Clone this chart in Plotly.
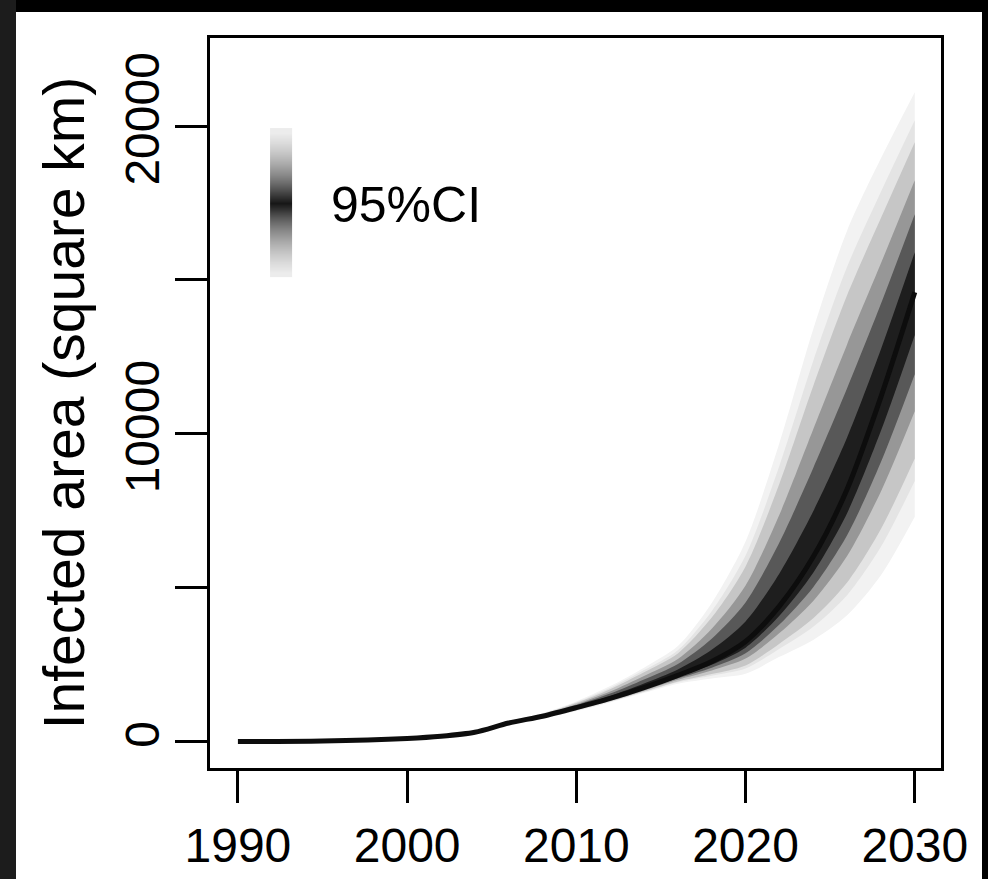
import numpy as np
import plotly.graph_objects as go

# ---------------- data ----------------
years = [1990, 1995, 2000, 2002, 2004, 2006, 2008, 2010, 2012, 2014, 2016, 2018, 2020, 2022, 2024, 2026, 2028, 2030]

q500 = [0, 15, 100, 170, 300, 600, 820, 1100, 1400, 1750, 2150, 2600, 3250, 4400, 6000, 8200, 11200, 14600]

q975 = [0, 20, 112, 190, 335, 660, 920, 1300, 1800, 2400, 3100, 4500, 6500, 9700, 13400, 16600, 18950, 21100]
q950 = [0, 19, 110, 187, 330, 652, 906, 1272, 1744, 2320, 2967, 4234, 6045, 8958, 12364, 15424, 17865, 20190]
q900 = [0, 19, 109, 185, 326, 645, 895, 1250, 1700, 2250, 2863, 4025, 5688, 8375, 11550, 14500, 17013, 19475]
q800 = [0, 18, 107, 181, 320, 634, 876, 1212, 1624, 2130, 2682, 3664, 5070, 7368, 10144, 12904, 15540, 18240]
q700 = [0, 17, 105, 178, 314, 623, 859, 1178, 1556, 2015, 2521, 3341, 4518, 6467, 8886, 11476, 14223, 17135]
q600 = [0, 16, 102, 174, 307, 612, 840, 1140, 1480, 1885, 2340, 2980, 3900, 5460, 7480, 9880, 12750, 15900]

q400 = [0, 14, 98, 166, 293, 590, 805, 1079, 1375, 1718, 2099, 2495, 3050, 4086, 5487, 7421, 10098, 13213]
q300 = [0, 13, 96, 163, 287, 580, 791, 1060, 1353, 1688, 2051, 2399, 2867, 3798, 5014, 6703, 9083, 11935]
q200 = [0, 12, 94, 159, 281, 571, 778, 1042, 1331, 1660, 2007, 2308, 2693, 3525, 4569, 6027, 8126, 10731]
q100 = [0, 11, 91, 155, 274, 559, 761, 1019, 1304, 1624, 1950, 2193, 2473, 3179, 4002, 5166, 6908, 9198]
q050 = [0, 11, 90, 153, 271, 554, 753, 1008, 1291, 1607, 1923, 2138, 2368, 3014, 3732, 4756, 6328, 8468]
q025 = [0, 10, 88, 150, 265, 545, 740, 990, 1270, 1580, 1880, 2050, 2200, 2750, 3300, 4100, 5400, 7300]

x_ticks = [1990, 2000, 2010, 2020, 2030]
y_ticks = [0, 5000, 10000, 15000, 20000]
y_ticktext = ["0", "", "10000", "", "20000"]

legend_label = "95%CI"
legend_levels = [0.04, 0.12, 0.22, 0.34, 0.48, 0.62, 0.78, 0.95, 0.78, 0.62, 0.48, 0.34, 0.22, 0.12, 0.04]

# ---------------- figure ----------------
FONT = "Liberation Sans, Arial, Helvetica, sans-serif"
fig = go.Figure()

bands = [
    (q025, q975, "#f2f2f2"),
    (q050, q950, "#e4e4e4"),
    (q100, q900, "#c6c6c6"),
    (q200, q800, "#979797"),
    (q300, q700, "#585858"),
    (q400, q600, "#1e1e1e"),
]
for lo, hi, col in bands:
    fig.add_trace(go.Scatter(x=years, y=lo, mode="lines",
                             line=dict(width=0, color=col, shape="spline", smoothing=0.8),
                             showlegend=False, hoverinfo="skip"))
    fig.add_trace(go.Scatter(x=years, y=hi, mode="lines", fill="tonexty", fillcolor=col,
                             line=dict(width=0, color=col, shape="spline", smoothing=0.8),
                             showlegend=False, hoverinfo="skip"))

fig.add_trace(go.Scatter(x=years, y=q500, mode="lines",
                         line=dict(width=5, color="#0d0d0d", shape="spline", smoothing=0.8),
                         showlegend=False, hoverinfo="skip"))

# legend gradient bar (heatmap with bin edges)
leg_x_edges = [1991.9, 1993.2]
leg_y_edges = list(np.linspace(15090, 19935, len(legend_levels) + 1))
fig.add_trace(go.Heatmap(
    x=leg_x_edges, y=leg_y_edges, z=[[v] for v in legend_levels],
    colorscale=[[0, "#f4f4f4"], [0.5, "#8a8a8a"], [1, "#0a0a0a"]],
    zmin=0, zmax=1, showscale=False, hoverinfo="skip", zsmooth="best"))

fig.add_annotation(x=1995.4, y=17430, text=legend_label, showarrow=False,
                   xanchor="left", yanchor="middle",
                   font=dict(family=FONT, size=50, color="black"))

# frame bands of the cropped image
fig.add_shape(type="rect", xref="paper", yref="paper",
              x0=-0.40, x1=1.10, y0=1 + 26 / 730, y1=1.10,
              fillcolor="black", line_width=0, layer="above")
fig.add_shape(type="rect", xref="paper", yref="paper",
              x0=-0.40, x1=(16 - 210) / 731, y0=-0.30, y1=1.10,
              fillcolor="#1c1c1c", line_width=0, layer="above")
fig.add_shape(type="rect", xref="paper", yref="paper",
              x0=(982 - 210) / 731, x1=1.10, y0=-0.30, y1=1.10,
              fillcolor="black", line_width=0, layer="above")

axis_common = dict(showline=True, mirror=True, linecolor="black", linewidth=2.5,
                   ticks="outside", ticklen=32, tickwidth=2.5, tickcolor="black",
                   showgrid=False, zeroline=False, automargin=False,
                   tickfont=dict(family=FONT, size=48, color="black"))

fig.update_layout(
    width=988, height=879,
    margin=dict(l=210, r=47, t=38, b=111),
    paper_bgcolor="white", plot_bgcolor="white",
    xaxis=dict(range=[1988.35, 2031.55], tickvals=x_ticks,
               ticktext=[str(v) for v in x_ticks], ticklabelstandoff=2, **axis_common),
    yaxis=dict(range=[-862, 22862], tickvals=y_ticks, ticktext=y_ticktext,
               tickangle=-90, ticklabelstandoff=-3,
               title=dict(text="Infected area (square km)", standoff=14,
                          font=dict(family=FONT, size=57, color="black")),
               **axis_common),
)

fig.write_html("out.html", config={"displayModeBar": False},
               post_script="document.body.style.margin='0';document.body.style.overflow='hidden';")
